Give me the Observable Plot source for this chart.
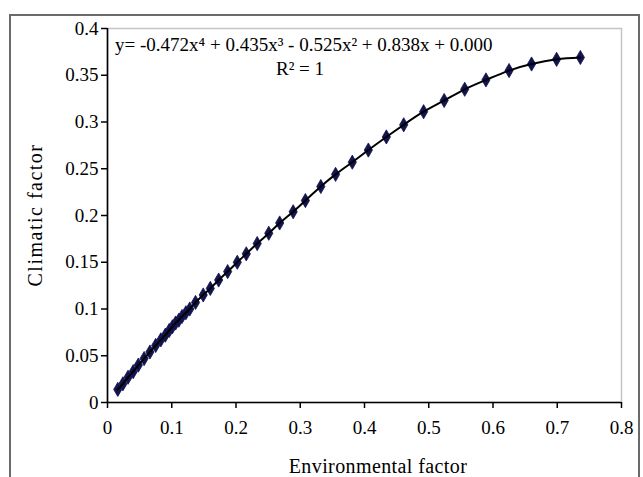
<!DOCTYPE html>
<html><head><meta charset="utf-8">
<script src="https://cdn.jsdelivr.net/npm/d3@7"></script>
<script src="https://cdn.jsdelivr.net/npm/@observablehq/plot@0.6"></script>
<style>body{margin:0;background:#fff;}</style>
</head><body><div id="chart"></div>
<script>
const envFactor = [0.016,0.024,0.032,0.040,0.048,0.057,0.066,0.075,0.083,0.090,0.096,0.101,0.106,0.111,0.116,0.122,0.128,0.137,0.149,0.160,0.173,0.187,0.202,0.216,0.233,0.251,0.268,0.289,0.308,0.332,0.355,0.381,0.406,0.434,0.461,0.492,0.524,0.556,0.589,0.625,0.660,0.699,0.736];
const climaticFactor = [0.014,0.020,0.027,0.033,0.040,0.047,0.054,0.061,0.067,0.072,0.077,0.081,0.085,0.088,0.092,0.096,0.100,0.107,0.115,0.122,0.131,0.140,0.150,0.159,0.170,0.181,0.192,0.204,0.216,0.231,0.244,0.257,0.270,0.284,0.297,0.311,0.323,0.335,0.345,0.355,0.362,0.367,0.369];
const xTicks = [0,0.1,0.2,0.3,0.4,0.5,0.6,0.7,0.8];
const yTicks = [0,0.05,0.1,0.15,0.2,0.25,0.3,0.35,0.4];
const xTitle = "Environmental factor";
const yTitle = "Climatic factor";
const equationText = "y= -0.472x⁴ + 0.435x³ - 0.525x² + 0.838x + 0.000";
const r2Text = "R² = 1";

const data = envFactor.map((x, i) => ({x, y: climaticFactor[i]}));
const fmt = d3.format("~g");
const FONT = "'Liberation Serif', 'Times New Roman', serif";

const plot = Plot.plot({
  width: 643, height: 477,
  marginLeft: 107, marginRight: 22, marginTop: 28, marginBottom: 75,
  style: {fontFamily: FONT, fontSize: "19px", background: "#fff", color: "#000", overflow: "visible"},
  x: {domain: [0, 0.8]},
  y: {domain: [0, 0.4]},
  marks: [
    Plot.frame({stroke: "#c4c4c4", strokeWidth: 1.5}),
    Plot.axisX({ticks: xTicks, tickFormat: fmt, tickSize: 6, tickPadding: 12, label: null, stroke: "#000", strokeWidth: 1.5}),
    Plot.axisY({ticks: yTicks, tickFormat: fmt, tickSize: 6, tickPadding: 3, label: null, stroke: "#000", strokeWidth: 1.5}),
    Plot.ruleX([0], {stroke: "#000", strokeWidth: 1.6}),
    Plot.ruleY([0], {stroke: "#000", strokeWidth: 1.6}),
    Plot.dot(data, {x: "x", y: "y", symbol: "diamond", r: 4.3, fill: "#13134f", stroke: "#13134f", strokeWidth: 0.8}),
    Plot.line(data, {x: "x", y: "y", curve: "natural", stroke: "#000", strokeWidth: 2})
  ]
});

const svg = d3.select(plot);
svg.insert("rect", ":first-child")
  .attr("x", 10).attr("y", 15).attr("width", 629).attr("height", 480)
  .attr("fill", "none").attr("stroke", "#6a6a6a").attr("stroke-width", 2);

svg.append("text").attr("x", 115).attr("y", 51).attr("text-anchor", "start")
  .attr("font-family", FONT).attr("font-size", 19).attr("fill", "#000")
  .text(equationText);
svg.append("text").attr("x", 300).attr("y", 75).attr("text-anchor", "middle")
  .attr("font-family", FONT).attr("font-size", 19).attr("fill", "#000")
  .text(r2Text);
svg.append("text").attr("x", 378).attr("y", 473).attr("text-anchor", "middle")
  .attr("font-family", FONT).attr("font-size", 20).attr("letter-spacing", "0.4px").attr("fill", "#000")
  .text(xTitle);
svg.append("text").attr("transform", "translate(42,215) rotate(-90)").attr("text-anchor", "middle")
  .attr("font-family", FONT).attr("font-size", 20).attr("letter-spacing", "1.5px").attr("fill", "#000")
  .text(yTitle);

document.getElementById("chart").appendChild(plot);
</script>
</body></html>
